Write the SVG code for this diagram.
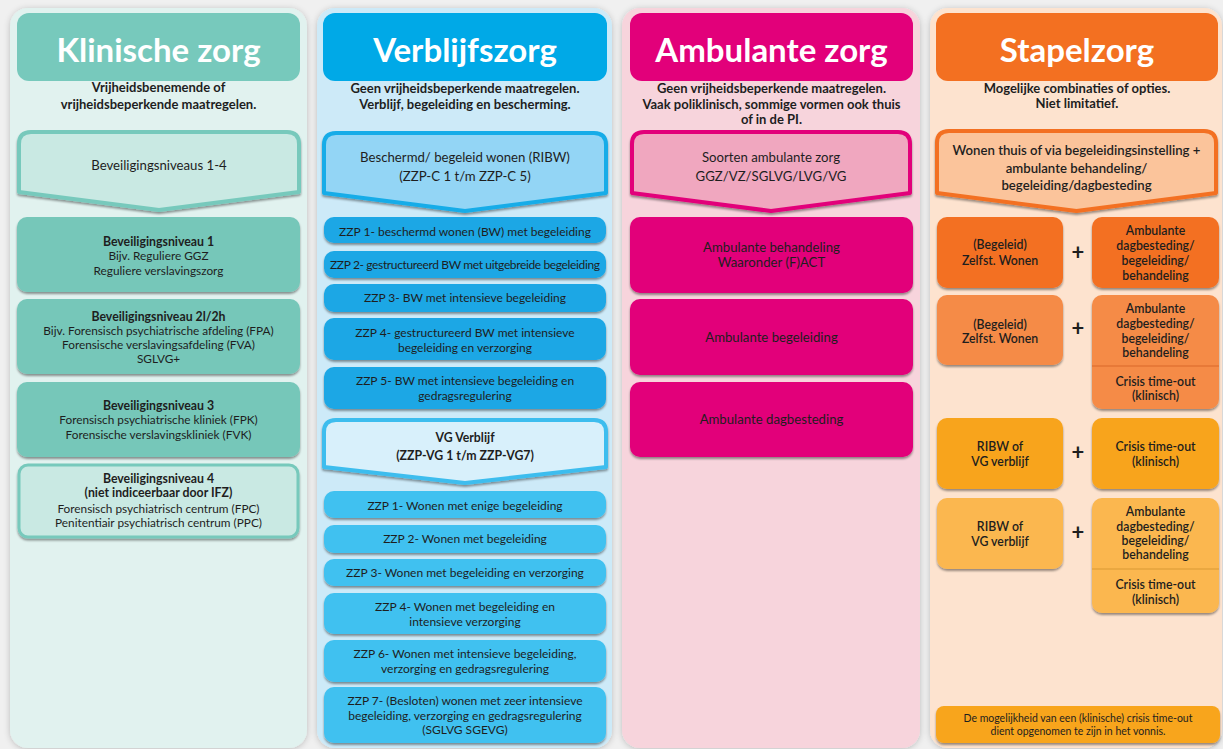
<svg xmlns="http://www.w3.org/2000/svg" width="1223" height="749" viewBox="0 0 1223 749">
<defs>
<filter id="pshadow" x="-10%" y="-5%" width="120%" height="110%">
<feDropShadow dx="0" dy="1" stdDeviation="3" flood-color="#000" flood-opacity="0.22"/>
</filter>
<filter id="bshadow" x="-5%" y="-10%" width="110%" height="130%">
<feDropShadow dx="0" dy="2" stdDeviation="0.8" flood-color="#000" flood-opacity="0.4"/>
</filter>
<style>
text{font-family:Lato,"Open Sans","Liberation Sans",sans-serif;fill:#1e1e1e;text-anchor:middle;}
.title{font-size:33px;font-weight:bold;fill:#fff;}
.sub{font-size:13px;font-weight:bold;}
.a13{font-size:13.2px;}
.t12{font-size:12px;}
.t11{font-size:11.8px;}
.b11{font-size:12.3px;font-weight:bold;}
.s11{font-size:12.3px;font-weight:600;}
.plus{font-size:22px;font-weight:bold;}
.note{font-size:10.5px;}
.box{filter:url(#bshadow);}
.panel{filter:url(#pshadow);}
</style>
</defs>
<rect x="0" y="0" width="1223" height="749" fill="#f0f0f0"/>

<!-- Column 1 -->
<g id="col-klinisch">
<rect class="panel" x="10" y="8" width="297" height="740" rx="18" fill="#e1f2ef"/>
<rect x="17" y="13" width="283" height="68" rx="12" fill="#77c9bc"/>
<text class="title" x="158.5" y="62">Klinische zorg</text>
<text class="sub" x="158.5" y="92">Vrijheidsbenemende of</text>
<text class="sub" x="158.5" y="109">vrijheidsbeperkende maatregelen.</text>
</g>
<g id="k-niveaus">
<path class="box" d="M31 132 H287 Q299 132 299 144 V192 L159 210 L19 192 V144 Q19 132 31 132 Z" fill="#c9e9e3" stroke="#77c9bc" stroke-width="4" stroke-linejoin="round"/>
<text class="a13" x="159" y="170">Beveiligingsniveaus 1-4</text>
</g>
<g id="k-niveau1">
<rect class="box" x="17" y="217" width="283" height="75" rx="10" fill="#76c7b9"/>
<text class="b11" x="158.5" y="246">Beveiligingsniveau 1</text>
<text class="t11" x="158.5" y="260">Bijv. Reguliere GGZ</text>
<text class="t11" x="158.5" y="275">Reguliere  verslavingszorg</text>
</g>
<g id="k-niveau2">
<rect class="box" x="17" y="299" width="283" height="75" rx="10" fill="#76c7b9"/>
<text class="b11" x="158.5" y="321">Beveiligingsniveau 2l/2h</text>
<text class="t11" x="158.5" y="335">Bijv. Forensisch psychiatrische afdeling (FPA)</text>
<text class="t11" x="158.5" y="349">Forensische  verslavingsafdeling (FVA)</text>
<text class="t11" x="158.5" y="363">SGLVG+</text>
</g>
<g id="k-niveau3">
<rect class="box" x="17" y="382" width="283" height="75" rx="10" fill="#76c7b9"/>
<text class="b11" x="158.5" y="410">Beveiligingsniveau 3</text>
<text class="t11" x="158.5" y="424">Forensisch psychiatrische kliniek (FPK)</text>
<text class="t11" x="158.5" y="439">Forensische verslavingskliniek (FVK)</text>
</g>
<g id="k-niveau4">
<rect class="box" x="19" y="465" width="279" height="72" rx="9" fill="#c9e9e3" stroke="#77c9bc" stroke-width="3"/>
<text class="b11" x="158.5" y="483">Beveiligingsniveau 4</text>
<text class="b11" x="158.5" y="497">(niet indiceerbaar door IFZ)</text>
<text class="t11" x="158.5" y="513">Forensisch psychiatrisch centrum (FPC)</text>
<text class="t11" x="158.5" y="527">Penitentiair psychiatrisch centrum (PPC)</text>
</g>

<!-- Column 2 -->
<g id="col-verblijf">
<rect class="panel" x="317" y="8" width="295" height="740" rx="18" fill="#cdeaf8"/>
<rect x="323" y="13" width="284" height="68" rx="12" fill="#00a9e7"/>
<text class="title" x="465" y="62">Verblijfszorg</text>
<text class="sub" x="465" y="93">Geen vrijheidsbeperkende maatregelen.</text>
<text class="sub" x="465" y="109">Verblijf, begeleiding en bescherming.</text>
</g>
<g id="v-ribw">
<path class="box" d="M336 133 H594 Q606 133 606 145 V193 L465 211 L324 193 V145 Q324 133 336 133 Z" fill="#93d5f5" stroke="#16ace8" stroke-width="4" stroke-linejoin="round"/>
<text class="a13" x="465" y="162">Beschermd/ begeleid wonen (RIBW)</text>
<text class="a13" x="465" y="181">(ZZP-C 1 t/m ZZP-C 5)</text>
</g>
<g id="v-c1">
<rect class="box" x="324" y="217" width="282" height="26" rx="10" fill="#1ba7e5"/>
<text class="t12" x="465" y="236">ZZP 1- beschermd wonen (BW) met begeleiding</text>
</g>
<g id="v-c2">
<rect class="box" x="324" y="251" width="282" height="27" rx="10" fill="#1ba7e5"/>
<text class="t12" x="465" y="269" textLength="270">ZZP 2- gestructureerd BW met uitgebreide begeleiding</text>
</g>
<g id="v-c3">
<rect class="box" x="324" y="284" width="282" height="28" rx="10" fill="#1ba7e5"/>
<text class="t12" x="465" y="302">ZZP 3- BW met intensieve begeleiding</text>
</g>
<g id="v-c4">
<rect class="box" x="324" y="318" width="282" height="42" rx="10" fill="#1ba7e5"/>
<text class="t12" x="465" y="337">ZZP 4- gestructureerd BW met intensieve</text>
<text class="t12" x="465" y="352">begeleiding en verzorging</text>
</g>
<g id="v-c5">
<rect class="box" x="324" y="367" width="282" height="42" rx="10" fill="#1ba7e5"/>
<text class="t12" x="465" y="385">ZZP 5- BW met intensieve begeleiding en</text>
<text class="t12" x="465" y="400">gedragsregulering</text>
</g>
<g id="v-vg">
<path class="box" d="M336 420 H594 Q606 420 606 432 V467 L465 483 L324 467 V432 Q324 420 336 420 Z" fill="#d8f0fb" stroke="#3dbdee" stroke-width="4" stroke-linejoin="round"/>
<text class="b11" x="465" y="442">VG Verblijf</text>
<text class="b11" x="465" y="460">(ZZP-VG 1 t/m ZZP-VG7)</text>
</g>
<g id="v-vg1">
<rect class="box" x="324" y="491" width="282" height="27" rx="10" fill="#40c1f0"/>
<text class="t12" x="465" y="510">ZZP 1- Wonen met enige begeleiding</text>
</g>
<g id="v-vg2">
<rect class="box" x="324" y="525" width="282" height="28" rx="10" fill="#40c1f0"/>
<text class="t12" x="465" y="543">ZZP 2- Wonen met begeleiding</text>
</g>
<g id="v-vg3">
<rect class="box" x="324" y="559" width="282" height="27" rx="10" fill="#40c1f0"/>
<text class="t12" x="465" y="577">ZZP 3- Wonen met begeleiding en verzorging</text>
</g>
<g id="v-vg4">
<rect class="box" x="324" y="593" width="282" height="41" rx="10" fill="#40c1f0"/>
<text class="t12" x="465" y="611">ZZP 4- Wonen met begeleiding en</text>
<text class="t12" x="465" y="626">intensieve verzorging</text>
</g>
<g id="v-vg6">
<rect class="box" x="324" y="640" width="282" height="42" rx="10" fill="#40c1f0"/>
<text class="t12" x="465" y="658">ZZP 6- Wonen met intensieve begeleiding,</text>
<text class="t12" x="465" y="673">verzorging en gedragsregulering</text>
</g>
<g id="v-vg7">
<rect class="box" x="324" y="687" width="282" height="56" rx="10" fill="#40c1f0"/>
<text class="t12" x="465" y="705">ZZP 7- (Besloten) wonen met zeer intensieve</text>
<text class="t12" x="465" y="720">begeleiding, verzorging en gedragsregulering</text>
<text class="t12" x="465" y="734">(SGLVG SGEVG)</text>
</g>

<!-- Column 3 -->
<g id="col-ambulant">
<rect class="panel" x="622" y="8" width="298" height="740" rx="18" fill="#f7d4dc"/>
<rect x="630" y="13" width="283" height="68" rx="12" fill="#e2007a"/>
<text class="title" x="771.5" y="62">Ambulante zorg</text>
<text class="sub" x="771.5" y="93">Geen vrijheidsbeperkende maatregelen.</text>
<text class="sub" x="771.5" y="109">Vaak poliklinisch, sommige vormen ook thuis</text>
<text class="sub" x="771.5" y="124">of in de PI.</text>
</g>
<g id="a-soorten">
<path class="box" d="M644 132 H898 Q910 132 910 144 V193 L771 211 L632 193 V144 Q632 132 644 132 Z" fill="#f0a7bf" stroke="#e2007a" stroke-width="4" stroke-linejoin="round"/>
<text class="a13" x="771" y="162">Soorten ambulante zorg</text>
<text class="a13" x="771" y="181">GGZ/VZ/SGLVG/LVG/VG</text>
</g>
<g id="a-behandeling">
<rect class="box" x="630" y="217" width="283" height="76" rx="10" fill="#e2007a"/>
<text class="a13" x="771.5" y="252">Ambulante behandeling</text>
<text class="a13" x="771.5" y="267">Waaronder (F)ACT</text>
</g>
<g id="a-begeleiding">
<rect class="box" x="630" y="299" width="283" height="76" rx="10" fill="#e2007a"/>
<text class="a13" x="771.5" y="342">Ambulante begeleiding</text>
</g>
<g id="a-dagbesteding">
<rect class="box" x="630" y="382" width="283" height="75" rx="10" fill="#e2007a"/>
<text class="a13" x="771.5" y="424">Ambulante dagbesteding</text>
</g>

<!-- Column 4 -->
<g id="col-stapel">
<rect class="panel" x="930" y="8" width="292" height="740" rx="18" fill="#fde3cf"/>
<rect x="936" y="13" width="282" height="68" rx="12" fill="#f37021"/>
<text class="title" x="1077" y="62">Stapelzorg</text>
<text class="sub" x="1077" y="93">Mogelijke combinaties of opties.</text>
<text class="sub" x="1077" y="108">Niet limitatief.</text>
</g>
<g id="s-wonen">
<path class="box" d="M949 131 H1204 Q1216 131 1216 143 V193 L1076.5 211 L937 193 V143 Q937 131 949 131 Z" fill="#fbc49b" stroke="#f37021" stroke-width="4" stroke-linejoin="round"/>
<text class="a13" x="1076.5" y="155" font-weight="600">Wonen thuis of via begeleidingsinstelling +</text>
<text class="a13" x="1076.5" y="173" font-weight="600">ambulante behandeling/</text>
<text class="a13" x="1076.5" y="190" font-weight="600">begeleiding/dagbesteding</text>
</g>
<g id="s-r1-links">
<rect class="box" x="937" y="217" width="126" height="71" rx="10" fill="#f37021"/>
<text class="s11" x="1000" y="249">(Begeleid)</text>
<text class="s11" x="1000" y="265">Zelfst. Wonen</text>
</g>
<g id="s-r1-rechts">
<rect class="box" x="1092" y="217" width="127" height="71" rx="10" fill="#f37021"/>
<text class="s11" x="1155.5" y="235">Ambulante</text>
<text class="s11" x="1155.5" y="250">dagbesteding/</text>
<text class="s11" x="1155.5" y="265">begeleiding/</text>
<text class="s11" x="1155.5" y="280">behandeling</text>
</g>
<g id="s-r2-links">
<rect class="box" x="937" y="295" width="126" height="70" rx="10" fill="#f58b46"/>
<text class="s11" x="1000" y="329">(Begeleid)</text>
<text class="s11" x="1000" y="343">Zelfst. Wonen</text>
</g>
<g id="s-r2-rechts">
<rect class="box" x="1092" y="295" width="127" height="114" rx="10" fill="#f58b46"/>
<line x1="1092" y1="366" x2="1219" y2="366" stroke="#d9692a" stroke-width="1.2"/>
<text class="s11" x="1155.5" y="313">Ambulante</text>
<text class="s11" x="1155.5" y="328">dagbesteding/</text>
<text class="s11" x="1155.5" y="343">begeleiding/</text>
<text class="s11" x="1155.5" y="357">behandeling</text>
<text class="s11" x="1155.5" y="386">Crisis time-out</text>
<text class="s11" x="1155.5" y="400">(klinisch)</text>
</g>
<g id="s-r3-links">
<rect class="box" x="937" y="418" width="126" height="71" rx="10" fill="#f8a41b"/>
<text class="s11" x="1000" y="451">RIBW of</text>
<text class="s11" x="1000" y="466">VG verblijf</text>
</g>
<g id="s-r3-rechts">
<rect class="box" x="1092" y="418" width="127" height="71" rx="10" fill="#f8a41b"/>
<text class="s11" x="1155.5" y="451">Crisis time-out</text>
<text class="s11" x="1155.5" y="466">(klinisch)</text>
</g>
<g id="s-r4-links">
<rect class="box" x="937" y="498" width="126" height="71" rx="10" fill="#fbb74f"/>
<text class="s11" x="1000" y="531">RIBW of</text>
<text class="s11" x="1000" y="546">VG verblijf</text>
</g>
<g id="s-r4-rechts">
<rect class="box" x="1092" y="498" width="127" height="115" rx="10" fill="#fbb74f"/>
<line x1="1092" y1="569" x2="1219" y2="569" stroke="#d99a35" stroke-width="1.2"/>
<text class="s11" x="1155.5" y="516">Ambulante</text>
<text class="s11" x="1155.5" y="531">dagbesteding/</text>
<text class="s11" x="1155.5" y="545">begeleiding/</text>
<text class="s11" x="1155.5" y="559">behandeling</text>
<text class="s11" x="1155.5" y="589">Crisis time-out</text>
<text class="s11" x="1155.5" y="604">(klinisch)</text>
</g>
<g id="s-plus">
<text class="plus" x="1078" y="260">+</text>
<text class="plus" x="1078" y="336">+</text>
<text class="plus" x="1078" y="460">+</text>
<text class="plus" x="1078" y="540">+</text>
</g>
<g id="s-note">
<rect class="box" x="936" y="706" width="284" height="37" rx="8" fill="#f8a51b"/>
<text class="note" x="1078" y="722">De mogelijkheid van een (klinische) crisis time-out</text>
<text class="note" x="1078" y="735">dient opgenomen te zijn in het vonnis.</text>
</g>
<g id="connectors"></g>
</svg>
